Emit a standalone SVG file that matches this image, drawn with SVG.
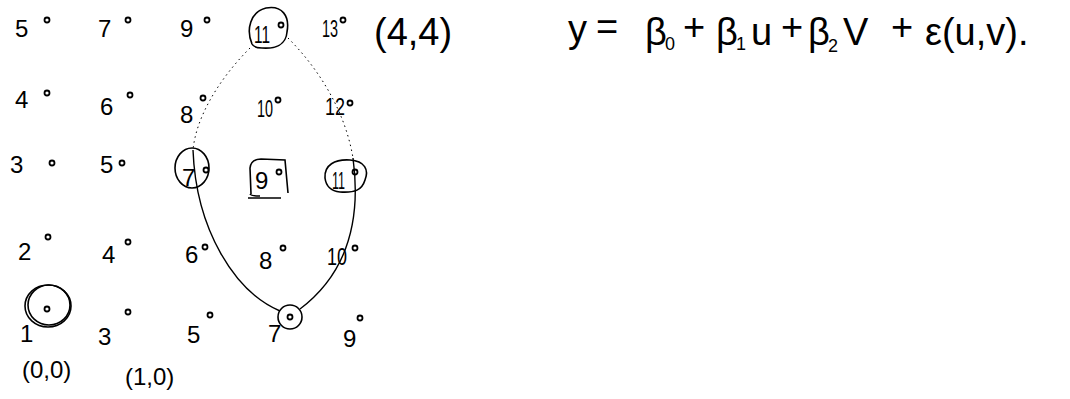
<svg xmlns="http://www.w3.org/2000/svg" width="1070" height="399" viewBox="0 0 1070 399">
<style>
.n{font-family:"Liberation Sans","DejaVu Sans",sans-serif;font-size:24px;fill:#000}
.eq{font-family:"Liberation Sans","DejaVu Sans",sans-serif;font-size:38px;fill:#000}
.sub{font-family:"Liberation Sans","DejaVu Sans",sans-serif;font-size:18px;fill:#000}
.lab{font-family:"Liberation Sans","DejaVu Sans",sans-serif;font-size:24px;fill:#000}
.d{fill:none;stroke:#000;stroke-width:1.8}
.ring{fill:none;stroke:#000;stroke-width:1.6}
.sol{fill:none;stroke:#000;stroke-width:1.4}
.dot{fill:none;stroke:#000;stroke-width:1;stroke-dasharray:1.5 3.5}
</style>
<rect width="1070" height="399" fill="#fff"/>
<g id="connectors">
<path class="dot" d="M250 48 C218 80 196 118 193 150"/>
<path class="sol" d="M193 150 C196 230 235 292 280 311"/>
<path class="dot" d="M288 38 C318 68 345 110 353 158"/>
<path class="sol" d="M353 158 C362 225 345 275 300 309"/>
</g>
<g id="r1">
<g id="n5a"><text class="n" x="15" y="37">5</text><circle class="d" cx="47" cy="20" r="2.5"/></g>
<g id="n7a"><text class="n" x="98" y="37">7</text><circle class="d" cx="128" cy="20" r="2.5"/></g>
<g id="n9a"><text class="n" x="180" y="37">9</text><circle class="d" cx="207" cy="20" r="2.5"/></g>
<g id="n11a"><text class="n" x="254" y="43" textLength="16" lengthAdjust="spacingAndGlyphs">11</text><circle class="d" cx="281" cy="25" r="2.5"/><path class="ring" d="M252 44 C246 30 250 12 266 8 C282 5 290 16 287 32 C286 45 275 49 262 48 C256 48 253 46 252 44"/></g>
<g id="n13a"><text class="n" x="322" y="37" textLength="16" lengthAdjust="spacingAndGlyphs">13</text><circle class="d" cx="343" cy="20" r="2.5"/></g>
<g id="p44"><text class="eq" x="374" y="45" font-size="34">(4,4)</text></g>
</g>
<g id="r2">
<g id="n4b"><text class="n" x="15" y="108">4</text><circle class="d" cx="47" cy="93" r="2.5"/></g>
<g id="n6b"><text class="n" x="100" y="115">6</text><circle class="d" cx="130" cy="95" r="2.5"/></g>
<g id="n8b"><text class="n" x="180" y="123">8</text><circle class="d" cx="203" cy="98" r="2.5"/></g>
<g id="n10b"><text class="n" x="257" y="117" textLength="16" lengthAdjust="spacingAndGlyphs">10</text><circle class="d" cx="278" cy="100" r="2.5"/></g>
<g id="n12b"><text class="n" x="325" y="115" textLength="20" lengthAdjust="spacingAndGlyphs">12</text><circle class="d" cx="350" cy="103" r="2.5"/></g>
</g>
<g id="r3">
<g id="n3c"><text class="n" x="10" y="173">3</text><circle class="d" cx="52" cy="163" r="2.5"/></g>
<g id="n5c"><text class="n" x="100" y="173">5</text><circle class="d" cx="122" cy="163" r="2.5"/></g>
<g id="n7c"><text class="n" x="182" y="186">7</text><circle class="d" cx="206" cy="170" r="2.5"/><ellipse class="ring" cx="192" cy="168" rx="17" ry="20"/></g>
<g id="n9c"><text class="n" x="255" y="189">9</text><circle class="d" cx="279" cy="172" r="2.5"/><path class="ring" d="M251 194 L250 168 Q251 159 261 159 L285 160 L288 193"/><path class="ring" d="M250 194 Q251 196 260 196 M248 198 L281 198"/></g>
<g id="n11c"><text class="n" x="332" y="189" textLength="13" lengthAdjust="spacingAndGlyphs">11</text><circle class="d" cx="355" cy="172" r="2.5"/><path class="ring" d="M325 178 C324 165 335 159 350 160 C365 161 369 170 365 180 C362 190 355 193 340 192 C330 191 326 186 325 178"/></g>
</g>
<g id="r4">
<g id="n2d"><text class="n" x="18" y="260">2</text><circle class="d" cx="48" cy="237" r="2.5"/></g>
<g id="n4d"><text class="n" x="102" y="263">4</text><circle class="d" cx="128" cy="242" r="2.5"/></g>
<g id="n6d"><text class="n" x="185" y="263">6</text><circle class="d" cx="205" cy="247" r="2.5"/></g>
<g id="n8d"><text class="n" x="259" y="269">8</text><circle class="d" cx="283" cy="248" r="2.5"/></g>
<g id="n10d"><text class="n" x="327" y="265" textLength="20" lengthAdjust="spacingAndGlyphs">10</text><circle class="d" cx="355" cy="248" r="2.5"/></g>
</g>
<g id="r5">
<g id="n1e"><text class="n" x="20" y="342">1</text><circle class="d" cx="47" cy="309" r="2.5"/><ellipse class="ring" cx="48" cy="306" rx="23" ry="21"/><ellipse class="ring" cx="49" cy="305" rx="21" ry="20"/></g>
<g id="n3e"><text class="n" x="98" y="345">3</text><circle class="d" cx="128" cy="312" r="2.5"/></g>
<g id="n5e"><text class="n" x="187" y="343">5</text><circle class="d" cx="210" cy="315" r="2.5"/></g>
<g id="n7e"><text class="n" x="268" y="342">7</text><circle class="d" cx="290" cy="317" r="2.5"/><circle class="ring" cx="290" cy="317" r="12"/></g>
<g id="n9e"><text class="n" x="343" y="347">9</text><circle class="d" cx="360" cy="318" r="2.5"/></g>
</g>
<g id="labels">
<text class="lab" x="22" y="378">(0,0)</text>
<text class="lab" x="125" y="385">(1,0)</text>
</g>
<g id="equation">
<text class="eq" x="568" y="42">y</text>
<text class="eq" x="596" y="40" font-size="26">=</text>
<text class="eq" x="645" y="45">β</text><text class="sub" x="665" y="50">0</text>
<text class="eq" x="683" y="40" font-size="24">+</text>
<text class="eq" x="716" y="45">β</text><text class="sub" x="736" y="50">1</text>
<text class="eq" x="751" y="45">u</text>
<text class="eq" x="781" y="40" font-size="24">+</text>
<text class="eq" x="808" y="45">β</text><text class="sub" x="828" y="52">2</text>
<text class="eq" x="843" y="45">V</text>
<text class="eq" x="891" y="40" font-size="24">+</text>
<text class="eq" x="925" y="45">ε(u,v).</text>
</g>
</svg>
